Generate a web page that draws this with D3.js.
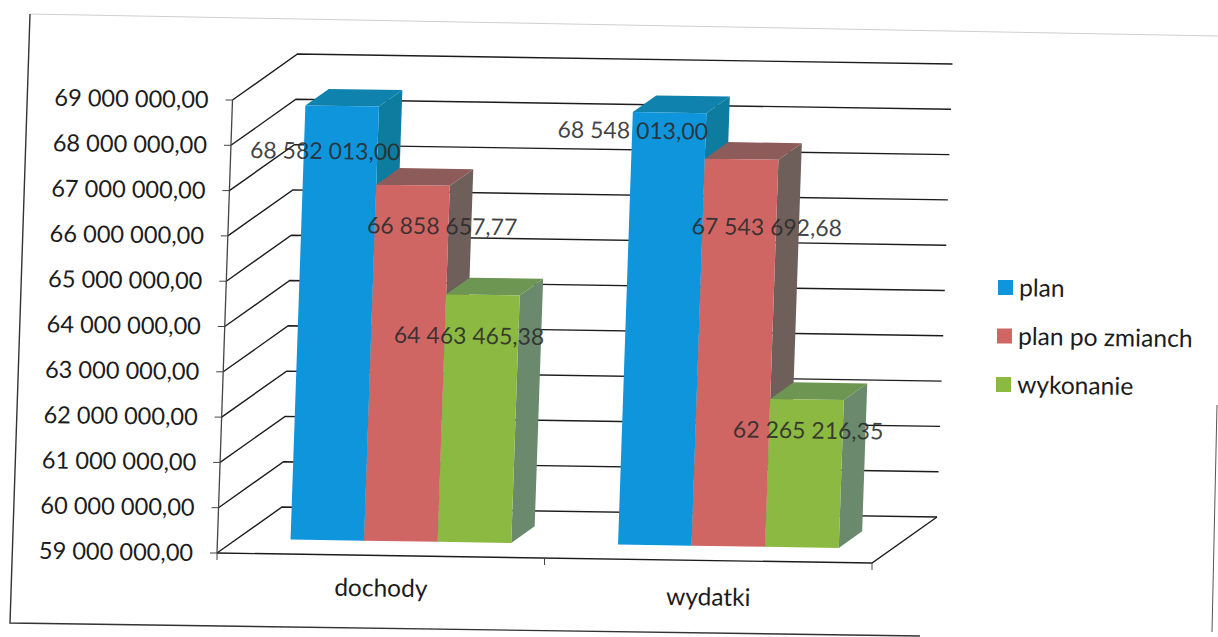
<!DOCTYPE html>
<html>
<head>
<meta charset="utf-8">
<script src="https://d3js.org/d3.v7.min.js"></script>
<style>
  html, body { margin: 0; padding: 0; background: #fff; }
  text { font-family: Lato, "Open Sans", sans-serif; }
</style>
</head>
<body>
<script>
// values
var categories = ["dochody", "wydatki"];
var seriesNames = ["plan", "plan po zmianch", "wykonanie"];
var plan = [68582013.00, 68548013.00];
var planPoZmianach = [66858657.77, 67543692.68];
var wykonanie = [64463465.38, 62265216.35];
var valueLabels = [
  ["68 582 013,00", "68 548 013,00"],
  ["66 858 657,77", "67 543 692,68"],
  ["64 463 465,38", "62 265 216,35"]
];
var yTickValues = [59, 60, 61, 62, 63, 64, 65, 66, 67, 68, 69];
var yTickLabels = ["59 000 000,00", "60 000 000,00", "61 000 000,00", "62 000 000,00",
  "63 000 000,00", "64 000 000,00", "65 000 000,00", "66 000 000,00",
  "67 000 000,00", "68 000 000,00", "69 000 000,00"];

var series = [plan, planPoZmianach, wykonanie];

// front, top, side colours for each series
var faceColors = [
  ["#0f95dc", "#0f82ae", "#0d7c9e"],
  ["#cf6664", "#8d5c5a", "#6f5f5b"],
  ["#8cb942", "#6c9652", "#6b8a6d"]
];

var width = 1218, height = 637;

var svg = d3.select("body").append("svg")
  .attr("width", width)
  .attr("height", height)
  .style("display", "block");

// scales work in unit space, project() turns it into the tilted 3d picture
var y = d3.scaleLinear().domain([59000000, 69000000]).range([0, 1]);
var x0 = d3.scaleBand().domain(categories).range([0, 1]).paddingInner(0.326).paddingOuter(0.163);
var x1 = d3.scaleBand().domain(d3.range(seriesNames.length)).range([0, x0.bandwidth()]);

function project(u, v, d) {
  return [217 + 655 * u + 15.5 * v + 65 * d,
          553 + 10 * u - 453 * v - 46 * d];
}

var line = d3.line();

// frame of the chart, the scan lost most of the top and right edges
svg.append("path")
  .attr("d", line([[30, 14], [1218, 36]]))
  .attr("fill", "none").attr("stroke", "#cfcfcf").attr("stroke-width", 1);
svg.append("path")
  .attr("d", line([[30, 14], [10, 623], [920, 636]]))
  .attr("fill", "none").attr("stroke", "#333").attr("stroke-width", 1.4);
svg.append("path")
  .attr("d", line([[1217, 405], [1212, 632]]))
  .attr("fill", "none").attr("stroke", "#555").attr("stroke-width", 1);

// gridlines on side wall and back wall
svg.selectAll("path.grid")
  .data(yTickValues)
  .enter()
  .append("path")
  .attr("class", "grid")
  .attr("fill", "none")
  .attr("stroke", "#1c1c1c")
  .attr("stroke-width", 1.4)
  .attr("d", function(t) {
    var v = y(t * 1000000);
    return line([project(0, v, 0), project(0, v, 1), project(1, v, 1)]);
  });

// floor
svg.append("path")
  .attr("d", line([project(0, 0, 0), project(1, 0, 0), project(1, 0, 1)]))
  .attr("fill", "none").attr("stroke", "#1c1c1c").attr("stroke-width", 1.4);

// value axis with ticks
svg.append("path")
  .attr("d", line([project(0, 0, 0), project(0, 1, 0)]))
  .attr("fill", "none").attr("stroke", "#444").attr("stroke-width", 1.3);

svg.selectAll("line.ytick")
  .data(yTickValues)
  .enter()
  .append("line")
  .attr("class", "ytick")
  .attr("stroke", "#444")
  .attr("x1", function(t) { return project(0, y(t * 1000000), 0)[0] - 7; })
  .attr("x2", function(t) { return project(0, y(t * 1000000), 0)[0]; })
  .attr("y1", function(t) { return project(0, y(t * 1000000), 0)[1]; })
  .attr("y2", function(t) { return project(0, y(t * 1000000), 0)[1]; });

svg.selectAll("text.ylabel")
  .data(yTickValues)
  .enter()
  .append("text")
  .attr("class", "ylabel")
  .attr("text-anchor", "end")
  .attr("font-size", 23.6)
  .attr("fill", "#1c1c1c")
  .attr("transform", function(t) {
    var p = project(0, y(t * 1000000), 0);
    return "translate(" + (p[0] - 24) + "," + (p[1] + 8) + ") rotate(0.8)";
  })
  .text(function(t, i) { return yTickLabels[i]; });

// category ticks
svg.selectAll("line.xtick")
  .data([0, 0.5, 1])
  .enter()
  .append("line")
  .attr("class", "xtick")
  .attr("stroke", "#444")
  .attr("x1", function(u) { return project(u, 0, 0)[0]; })
  .attr("x2", function(u) { return project(u, 0, 0)[0]; })
  .attr("y1", function(u) { return project(u, 0, 0)[1]; })
  .attr("y2", function(u) { return project(u, 0, 0)[1] + 7; });

svg.selectAll("text.xlabel")
  .data(categories)
  .enter()
  .append("text")
  .attr("class", "xlabel")
  .attr("text-anchor", "middle")
  .attr("font-size", 24.5)
  .attr("fill", "#1c1c1c")
  .attr("transform", function(c, i) {
    var p = project(x0(c) + x0.bandwidth() / 2, 0, 0);
    return "translate(" + p[0] + "," + (p[1] + 41 + i * 4) + ") rotate(0.8)";
  })
  .text(function(c) { return c; });

// bars, left to right so the next bar covers the side of the previous one
var d0 = 0.31, d1 = 0.67;

categories.forEach(function(c, ci) {
  series.forEach(function(vals, si) {
    var u0 = x0(c) + x1(si);
    var u1 = u0 + x1.bandwidth();
    var v = y(vals[ci]);
    var g = svg.append("g").attr("class", "bar");

    g.append("path")
      .attr("fill", faceColors[si][2])
      .attr("d", line([project(u1, 0, d0), project(u1, 0, d1), project(u1, v, d1), project(u1, v, d0)]) + "Z");
    g.append("path")
      .attr("fill", faceColors[si][1])
      .attr("d", line([project(u0, v, d0), project(u1, v, d0), project(u1, v, d1), project(u0, v, d1)]) + "Z");
    g.append("path")
      .attr("fill", faceColors[si][0])
      .attr("d", line([project(u0, 0, d0), project(u1, 0, d0), project(u1, v, d0), project(u0, v, d0)]) + "Z");
  });
});

// data labels were moved by hand in the original chart, so they get their own nudge
var labelNudge = [
  [[-17, 45], [-37, 18]],
  [[29, 41], [25, 68]],
  [[-14, 41], [1, 31]]
];

categories.forEach(function(c, ci) {
  series.forEach(function(vals, si) {
    var p = project(x0(c) + x1(si) + x1.bandwidth() / 2, y(vals[ci]), d0);
    var n = labelNudge[si][ci];
    svg.append("text")
      .attr("class", "value-label")
      .attr("text-anchor", "middle")
      .attr("font-size", 23)
      .attr("fill", "#2a2a2a")
      .attr("fill-opacity", 0.88)
      .attr("transform", "translate(" + (p[0] + n[0]) + "," + (p[1] + n[1] + 8) + ") rotate(0.8)")
      .text(valueLabels[si][ci]);
  });
});

// legend
var legendY = d3.scalePoint().domain(seriesNames).range([288, 385]);

var legend = svg.selectAll("g.legend")
  .data(seriesNames)
  .enter()
  .append("g")
  .attr("class", "legend")
  .attr("transform", function(s, i) { return "translate(" + (998 - i) + "," + legendY(s) + ")"; });

legend.append("rect")
  .attr("x", 0).attr("y", -8).attr("width", 15).attr("height", 15)
  .attr("fill", function(s, i) { return faceColors[i][0]; });

legend.append("text")
  .attr("x", 21).attr("y", 8)
  .attr("font-size", 24.6)
  .attr("fill", "#1c1c1c")
  .attr("transform", "rotate(0.8)")
  .text(function(s) { return s; });
</script>
</body>
</html>
